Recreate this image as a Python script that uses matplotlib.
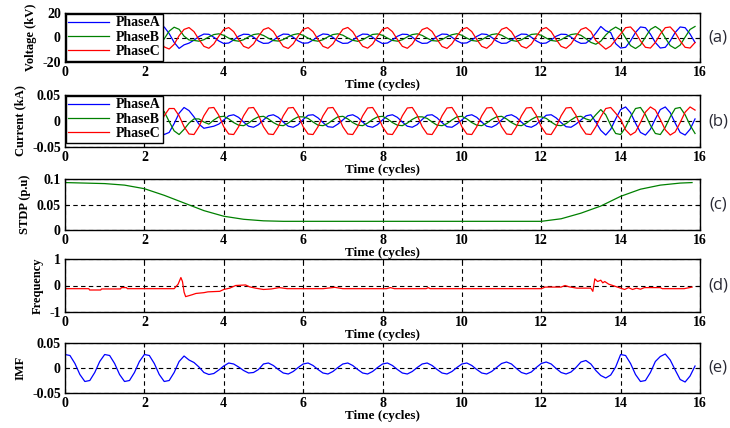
import numpy as np
import matplotlib.pyplot as plt

plt.rcParams['font.family'] = 'Liberation Serif'
plt.rcParams['font.weight'] = 'bold'
plt.rcParams['axes.labelweight'] = 'bold'

## waveform samples, 8 per cycle, one row per cycle (0..15)
volt_a = [[-8.6, -3.2, 4.0, 8.9, 8.6, 3.2, -4.0, -8.9],
          [-8.6, -3.2, 4.0, 8.9, 8.6, 3.2, -4.0, -8.9],
          [-8.6, -3.2, 4.0, 8.9, 8.6, 3.2, -4.0, -8.9],
          [-6.0, -4.6, -2.2, 0.8, 2.8, 2.6, 0.2, -2.8],
          [-4.9, -4.5, -2.0, 1.0, 2.7, 2.5, 0.3, -2.9],
          [-4.8, -4.6, -2.2, 0.8, 2.8, 2.6, 0.2, -2.8],
          [-4.7, -4.4, -2.1, 0.9, 2.9, 2.5, 0.1, -2.9],
          [-4.8, -4.6, -2.2, 0.8, 2.8, 2.6, 0.2, -2.8],
          [-4.9, -4.5, -2.0, 1.0, 2.7, 2.5, 0.3, -2.9],
          [-4.8, -4.6, -2.2, 0.8, 2.8, 2.6, 0.2, -2.8],
          [-4.7, -4.4, -2.1, 0.9, 2.9, 2.5, 0.1, -2.9],
          [-4.8, -4.6, -2.2, 0.8, 2.8, 2.6, 0.2, -2.8],
          [-4.9, -4.5, -2.0, 1.0, 2.7, 2.5, 0.3, -2.9],
          [-4.8, -4.6, -1.5, 3.5, 9.0, 5.5, 4.0, -5.0],
          [-8.6, -8.0, -2.8, 4.1, 8.6, 8.0, 2.8, -4.1],
          [-8.6, -8.0, -2.8, 4.1, 8.6, 8.0, 2.8, -4.1]]
volt_b = [[1.1, -5.2, -8.4, -6.7, -1.1, 5.2, 8.4, 6.7],
          [1.1, -5.2, -8.4, -6.7, -1.1, 5.2, 8.4, 6.7],
          [1.1, -5.2, -8.4, -6.7, -1.1, 5.2, 8.4, 6.7],
          [1.1, -2.0, -2.4, -3.0, -1.8, 0.5, 2.4, 3.0],
          [1.8, -0.5, -2.4, -3.0, -1.8, 0.5, 2.4, 3.0],
          [1.7, -0.6, -2.5, -2.9, -1.7, 0.6, 2.3, 3.1],
          [1.8, -0.5, -2.4, -3.0, -1.8, 0.5, 2.4, 3.0],
          [1.9, -0.4, -2.3, -3.1, -1.9, 0.4, 2.5, 2.9],
          [1.8, -0.5, -2.4, -3.0, -1.8, 0.5, 2.4, 3.0],
          [1.7, -0.6, -2.5, -2.9, -1.7, 0.6, 2.3, 3.1],
          [1.8, -0.5, -2.4, -3.0, -1.8, 0.5, 2.4, 3.0],
          [1.9, -0.4, -2.3, -3.1, -1.9, 0.4, 2.5, 2.9],
          [1.8, -0.5, -2.4, -3.0, -1.8, 0.5, 2.4, 3.0],
          [1.8, -1.0, -4.0, -5.5, -3.0, 2.0, 6.0, 8.5],
          [6.2, -0.3, -6.6, -9.0, -6.2, 0.3, 6.6, 9.0],
          [6.2, -0.3, -6.6, -9.0, -6.2, 0.3, 6.6, 9.0]]
volt_c = [[7.7, 9.4, 5.6, -1.5, -7.7, -9.4, -5.6, 1.5],
          [7.7, 9.4, 5.6, -1.5, -7.7, -9.4, -5.6, 1.5],
          [7.7, 9.4, 5.6, -1.5, -7.7, -9.4, -5.6, 1.5],
          [6.6, 8.1, 4.8, -1.6, -7.2, -8.8, -5.3, 1.0],
          [6.6, 8.1, 4.8, -1.6, -7.2, -8.8, -5.3, 1.0],
          [6.5, 8.0, 4.9, -1.5, -7.3, -8.9, -5.2, 1.1],
          [6.6, 8.1, 4.8, -1.6, -7.2, -8.8, -5.3, 1.0],
          [6.7, 8.2, 4.7, -1.7, -7.1, -8.7, -5.4, 0.9],
          [6.6, 8.1, 4.8, -1.6, -7.2, -8.8, -5.3, 1.0],
          [6.5, 8.0, 4.9, -1.5, -7.3, -8.9, -5.2, 1.1],
          [6.6, 8.1, 4.8, -1.6, -7.2, -8.8, -5.3, 1.0],
          [6.7, 8.2, 4.7, -1.7, -7.1, -8.7, -5.4, 0.9],
          [6.6, 8.1, 4.8, -1.6, -7.2, -8.8, -5.3, 1.0],
          [6.6, 8.1, 4.8, -2.5, -6.0, -9.5, -7.0, -2.0],
          [2.8, 8.0, 8.6, 4.1, -2.8, -8.0, -8.6, -4.1],
          [2.8, 8.0, 8.6, 4.1, -2.8, -8.0, -8.6, -4.1]]

curr_a = [[0.026, 0.022, 0.005, -0.015, -0.026, -0.022, -0.005, 0.015],
          [0.026, 0.022, 0.005, -0.015, -0.026, -0.022, -0.005, 0.015],
          [0.026, 0.022, 0.005, -0.015, -0.026, -0.022, -0.005, 0.015],
          [0.026, 0.020, 0.008, -0.006, -0.014, -0.012, -0.010, -0.006],
          [0.002, 0.010, 0.012, 0.007, -0.002, -0.010, -0.012, -0.007],
          [0.002, 0.010, 0.012, 0.007, -0.002, -0.010, -0.012, -0.007],
          [0.003, 0.011, 0.012, 0.006, -0.003, -0.011, -0.012, -0.006],
          [0.002, 0.010, 0.012, 0.007, -0.002, -0.010, -0.012, -0.007],
          [0.002, 0.010, 0.012, 0.007, -0.002, -0.010, -0.012, -0.007],
          [0.003, 0.011, 0.012, 0.006, -0.003, -0.011, -0.012, -0.006],
          [0.002, 0.010, 0.012, 0.007, -0.002, -0.010, -0.012, -0.007],
          [0.002, 0.010, 0.012, 0.007, -0.002, -0.010, -0.012, -0.007],
          [0.003, 0.011, 0.012, 0.006, -0.003, -0.011, -0.012, -0.006],
          [0.002, 0.010, 0.012, -0.002, -0.018, -0.027, -0.016, 0.004],
          [0.022, 0.027, 0.016, -0.004, -0.022, -0.027, -0.016, 0.004],
          [0.022, 0.027, 0.016, -0.004, -0.022, -0.027, -0.016, 0.004]]
curr_b = [[-0.018, 0.001, 0.019, 0.026, 0.018, -0.001, -0.019, -0.026],
          [-0.018, 0.001, 0.019, 0.026, 0.018, -0.001, -0.019, -0.026],
          [-0.018, 0.001, 0.019, 0.026, 0.018, -0.001, -0.019, -0.026],
          [-0.016, -0.004, 0.004, 0.004, -0.002, -0.006, 0.002, 0.008],
          [0.009, 0.004, -0.003, -0.008, -0.009, -0.004, 0.003, 0.008],
          [0.009, 0.004, -0.003, -0.008, -0.009, -0.004, 0.003, 0.008],
          [0.008, 0.005, -0.002, -0.008, -0.009, -0.005, 0.002, 0.008],
          [0.009, 0.004, -0.003, -0.008, -0.009, -0.004, 0.003, 0.008],
          [0.009, 0.004, -0.003, -0.008, -0.009, -0.004, 0.003, 0.008],
          [0.008, 0.005, -0.002, -0.008, -0.009, -0.005, 0.002, 0.008],
          [0.009, 0.004, -0.003, -0.008, -0.009, -0.004, 0.003, 0.008],
          [0.009, 0.004, -0.003, -0.008, -0.009, -0.004, 0.003, 0.008],
          [0.008, 0.005, -0.002, -0.008, -0.009, -0.005, 0.002, 0.008],
          [0.009, 0.004, 0.001, 0.012, 0.022, 0.012, -0.008, -0.024],
          [-0.026, -0.012, 0.008, 0.024, 0.026, 0.012, -0.008, -0.024],
          [-0.026, -0.012, 0.008, 0.024, 0.026, 0.012, -0.008, -0.024]]
curr_c = [[-0.010, -0.024, -0.024, -0.010, 0.010, 0.024, 0.024, 0.010],
          [-0.010, -0.024, -0.024, -0.010, 0.010, 0.024, 0.024, 0.010],
          [-0.010, -0.024, -0.024, -0.010, 0.010, 0.024, 0.024, 0.010],
          [-0.011, -0.025, -0.026, -0.011, 0.010, 0.025, 0.026, 0.011],
          [-0.011, -0.025, -0.026, -0.011, 0.010, 0.025, 0.026, 0.011],
          [-0.011, -0.025, -0.026, -0.011, 0.010, 0.025, 0.026, 0.011],
          [-0.011, -0.025, -0.026, -0.011, 0.010, 0.025, 0.026, 0.011],
          [-0.011, -0.025, -0.026, -0.011, 0.010, 0.025, 0.026, 0.011],
          [-0.011, -0.025, -0.026, -0.011, 0.010, 0.025, 0.026, 0.011],
          [-0.011, -0.025, -0.026, -0.011, 0.010, 0.025, 0.026, 0.011],
          [-0.011, -0.025, -0.026, -0.011, 0.010, 0.025, 0.026, 0.011],
          [-0.011, -0.025, -0.026, -0.011, 0.010, 0.025, 0.026, 0.011],
          [-0.011, -0.025, -0.026, -0.011, 0.010, 0.025, 0.026, 0.011],
          [-0.011, -0.025, -0.026, -0.011, 0.008, 0.024, 0.026, 0.015],
          [0.003, -0.017, -0.027, -0.021, -0.003, 0.017, 0.027, 0.021],
          [0.003, -0.017, -0.027, -0.021, -0.003, 0.017, 0.027, 0.021]]

imf = [[0.027, 0.025, 0.009, -0.013, -0.027, -0.025, -0.009, 0.013],
       [0.027, 0.025, 0.009, -0.013, -0.027, -0.025, -0.009, 0.013],
       [0.027, 0.025, 0.009, -0.013, -0.027, -0.025, -0.009, 0.013],
       [0.024, 0.016, 0.011, 0.002, -0.009, -0.013, -0.011, -0.004],
       [0.004, 0.010, 0.008, 0.002, -0.005, -0.010, -0.009, -0.003],
       [0.008, 0.010, 0.005, -0.003, -0.010, -0.012, -0.007, 0.001],
       [0.008, 0.010, 0.005, -0.003, -0.010, -0.012, -0.007, 0.001],
       [0.008, 0.010, 0.005, -0.003, -0.010, -0.012, -0.007, 0.001],
       [0.008, 0.010, 0.005, -0.003, -0.010, -0.012, -0.007, 0.001],
       [0.008, 0.010, 0.005, -0.003, -0.010, -0.012, -0.007, 0.001],
       [0.008, 0.010, 0.005, -0.003, -0.010, -0.012, -0.007, 0.001],
       [0.009, 0.012, 0.008, -0.001, -0.009, -0.012, -0.008, 0.001],
       [0.009, 0.012, 0.008, -0.001, -0.009, -0.012, -0.008, 0.001],
       [0.012, 0.015, 0.008, -0.005, -0.015, -0.020, -0.014, 0.002],
       [0.027, 0.025, 0.009, -0.013, -0.027, -0.025, -0.009, 0.013],
       [0.023, 0.028, 0.016, -0.004, -0.023, -0.028, -0.016, 0.004]]

stdp_t = [0, 0.5, 1.0, 1.5, 2.0, 2.5, 3.0, 3.5, 4.0, 4.5, 5.0, 5.5, 6.0,
          12.0, 12.5, 13.0, 13.5, 14.0, 14.5, 15.0, 15.5, 15.8]
stdp_v = [0.093, 0.092, 0.091, 0.088, 0.081, 0.068, 0.053, 0.038, 0.027, 0.021,
          0.018, 0.017, 0.017, 0.017, 0.022, 0.033, 0.047, 0.066, 0.080, 0.088,
          0.092, 0.093]

freq_t = [0, 0.6, 0.62, 0.9, 0.92, 1.4, 1.42, 1.55, 1.57, 2.75, 2.85, 2.92, 2.96,
          3.0, 3.04, 3.2, 3.3, 3.5, 3.6, 3.9, 4.0, 4.15, 4.3, 4.55, 4.65, 4.8,
          5.0, 5.2, 5.4, 5.6, 6.5, 6.8, 7.0, 8.1, 8.2, 8.3, 9.1, 9.15, 9.2,
          12.0, 12.1, 12.5, 12.6, 12.7, 12.9, 13.25, 13.3, 13.35, 13.42, 13.5,
          13.55, 13.6, 13.7, 13.8, 13.9, 14.0, 14.1, 14.2, 14.3, 14.4, 14.5,
          14.6, 15.0, 15.05, 15.6, 15.8]
freq_v = [-0.12, -0.12, -0.17, -0.17, -0.13, -0.13, -0.08, -0.08, -0.12, -0.12,
          0.05, 0.30, 0.15, -0.25, -0.42, -0.35, -0.30, -0.27, -0.24, -0.22,
          -0.15, -0.10, 0.0, 0.02, -0.05, -0.10, -0.15, -0.13, -0.08, -0.12,
          -0.12, -0.07, -0.12, -0.12, -0.08, -0.12, -0.12, -0.08, -0.12,
          -0.12, -0.06, -0.06, 0.0, -0.05, -0.10, -0.10, -0.22, 0.25, 0.15,
          0.20, 0.10, 0.15, 0.05, 0.0, -0.05, -0.10, -0.15, -0.08, -0.15,
          -0.10, -0.14, -0.08, -0.08, -0.12, -0.12, -0.06]

va = np.ravel(volt_a); vb = np.ravel(volt_b); vc = np.ravel(volt_c)
ia = np.ravel(curr_a); ib = np.ravel(curr_b); ic = np.ravel(curr_c)
imf_v = np.ravel(imf)
t = np.arange(len(va)) / 8.0

blue = '#0000ff'
green = '#008000'
red = '#ff0000'

fig = plt.figure(figsize=(7.3, 4.28), dpi=100)
left = 65/730.
width = 635/730.
boxes = [(62, 49), (147, 52), (230, 51), (312, 53), (393, 50)]
axs = [fig.add_axes([left, 1 - b/428., width, h/428.]) for b, h in boxes]

ax = axs[0]
ax.plot(t, va, color=blue, lw=0.9, label='PhaseA')
ax.plot(t, vb, color=green, lw=0.9, label='PhaseB')
ax.plot(t, vc, color=red, lw=0.9, label='PhaseC')
ax.set_ylim(-20, 20)
ax.set_yticks([-20, 0, 20])
ax.set_yticklabels(['-20', '0', '20'])
ax.set_ylabel('Voltage (kV)')

ax = axs[1]
ax.plot(t, ia, color=blue, lw=0.9, label='PhaseA')
ax.plot(t, ib, color=green, lw=0.9, label='PhaseB')
ax.plot(t, ic, color=red, lw=0.9, label='PhaseC')
ax.set_ylim(-0.05, 0.05)
ax.set_yticks([-0.05, 0, 0.05])
ax.set_yticklabels(['-0.05', '0', '0.05'])
ax.set_ylabel('Current (kA)')

ax = axs[2]
ax.plot(stdp_t, stdp_v, color=green, lw=0.9)
ax.set_ylim(0, 0.1)
ax.set_yticks([0, 0.05, 0.1])
ax.set_yticklabels(['0', '0.05', '0.1'])
ax.set_ylabel('STDP (p.u)')

ax = axs[3]
ax.plot(freq_t, freq_v, color=red, lw=0.9)
ax.set_ylim(-1, 1)
ax.set_yticks([-1, 0, 1])
ax.set_yticklabels(['-1', '0', '1'])
ax.set_ylabel('Frequency')

ax = axs[4]
ax.plot(t, imf_v, color=blue, lw=0.9)
ax.set_ylim(-0.05, 0.05)
ax.set_yticks([-0.05, 0, 0.05])
ax.set_yticklabels(['-0.05', '0', '0.05'])
ax.set_ylabel('IMF')

tags = ['(a)', '(b)', '(c)', '(d)', '(e)']
for ax, tag, (b, h) in zip(axs, tags, boxes):
    ax.set_xlim(0, 16)
    ax.set_xticks(range(0, 17, 2))
    ax.set_xlabel('Time (cycles)', fontsize=9.5, labelpad=0)
    ax.grid(True, color='k', linestyle=(0, (4, 3)), linewidth=0.8)
    ax.tick_params(direction='in', length=3, top=True, right=True,
                   labelsize=10, pad=3)
    ax.yaxis.label.set_size(9)
    for s in ax.spines.values():
        s.set_linewidth(1.0)
    fig.text(718/730., 1 - (b - h/2.)/428., tag, ha='center', va='center',
             fontsize=12, family='Open Sans', fontweight='normal', color='#2a2a35')

for ax in axs[:2]:
    lg = ax.legend(loc='upper left', fontsize=10, handlelength=2.9,
                   borderaxespad=0.05, labelspacing=0.1, borderpad=0.2,
                   handletextpad=0.5, fancybox=False, framealpha=1)
    lg.get_frame().set_edgecolor('k')
    lg.get_frame().set_linewidth(1.0)

fig.savefig('out.png', dpi=100)
